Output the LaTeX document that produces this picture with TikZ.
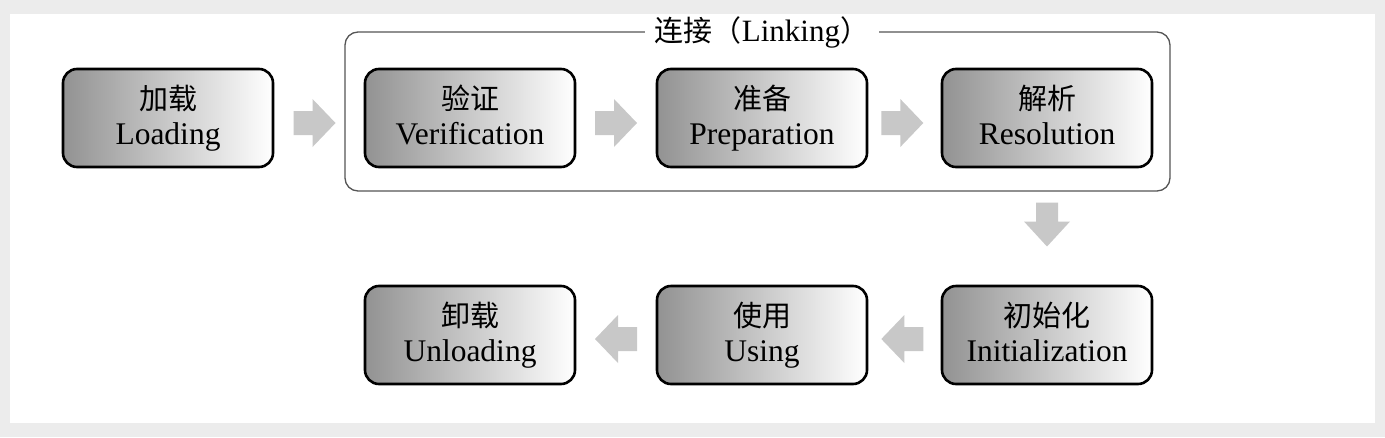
\documentclass[tikz,border=0pt]{standalone}
\usepackage{fontspec}
\setmainfont{Liberation Serif}
\newfontfamily\cjk{Noto Sans CJK SC}
\usetikzlibrary{calc}
\definecolor{bgout}{HTML}{ECECEC}
\definecolor{arrowgray}{HTML}{C8C8C8}
\definecolor{framegray}{HTML}{555555}
\definecolor{boxdark}{HTML}{929292}
\newcommand{\twolines}[2]{\rule{0pt}{26pt}{\cjk\fontsize{29}{35}\selectfont #1}\\#2\rule[-8pt]{0pt}{8pt}}
\begin{document}
\begin{tikzpicture}[x=1pt,y=-1pt,
  stage/.style={draw=black, line width=2.6pt, rounded corners=14pt,
    minimum width=210pt, minimum height=98pt, inner sep=0pt,
    left color=boxdark, right color=white, align=center,
    font=\fontsize{31.5}{35}\selectfont},
  rarr/.pic={\fill[arrowgray] (-21,-12) -- (-2,-12) -- (-2,-24) -- (21,0) -- (-2,24) -- (-2,12) -- (-21,12) -- cycle;},
  larr/.pic={\fill[arrowgray] (21,-12) -- (2,-12) -- (2,-24) -- (-21,0) -- (2,24) -- (2,12) -- (21,12) -- cycle;},
  darr/.pic={\fill[arrowgray] (-11,-22) -- (11,-22) -- (11,-3) -- (23,-3) -- (0,22) -- (-23,-3) -- (-11,-3) -- cycle;},
  title/.style={fill=white, inner xsep=10pt, inner ysep=2pt, font=\fontsize{31}{35}\selectfont}
]
\useasboundingbox (0,0) rectangle (1385,437);
\fill[bgout] (0,0) rectangle (1385,437);
\fill[white] (10,14) rectangle (1375,423);

% linking frame
\draw[framegray, line width=1.3pt, rounded corners=13pt] (345,32) rectangle (1170,191);
\node[title] (linktitle) at (762,32) {{\cjk\fontsize{29}{35}\selectfont 连接（}Linking{\cjk\fontsize{29}{35}\selectfont ）}};

% stages
\node[stage] (load)   at (168,118)  {\twolines{加载}{Loading}};
\node[stage] (ver)    at (470,118)  {\twolines{验证}{Verification}};
\node[stage] (prep)   at (762,118)  {\twolines{准备}{Preparation}};
\node[stage] (res)    at (1047,118) {\twolines{解析}{Resolution}};
\node[stage] (init)   at (1047,335) {\twolines{初始化}{Initialization}};
\node[stage] (use)    at (762,335)  {\twolines{使用}{Using}};
\node[stage] (unload) at (470,335)  {\twolines{卸载}{Unloading}};

% block arrows
\pic at ($($(load.east)!0.45!(ver.west)$)+(0,5)$) {rarr};
\pic at ($($(ver.east)!0.5!(prep.west)$)+(0,5)$) {rarr};
\pic at ($($(prep.east)!0.47!(res.west)$)+(0,5)$) {rarr};
\pic at ($($(res.south)!0.5!(init.north)$)+(0,-2)$) {darr};
\pic at ($($(use.east)!0.47!(init.west)$)+(0,4)$) {larr};
\pic at ($($(unload.east)!0.5!(use.west)$)+(0,4)$) {larr};
\end{tikzpicture}
\end{document}
